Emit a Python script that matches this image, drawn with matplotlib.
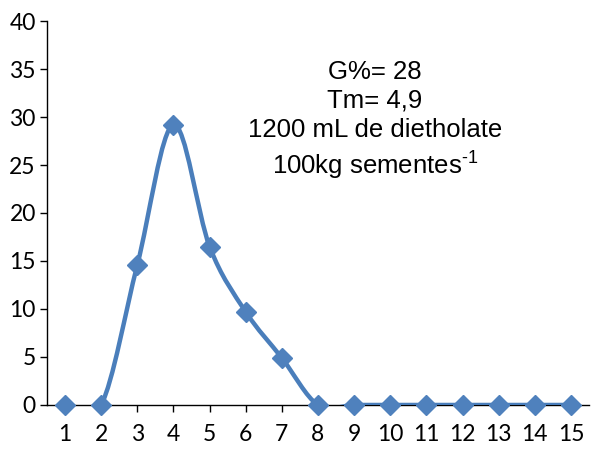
import numpy as np
import matplotlib
matplotlib.use('Agg')
import matplotlib.pyplot as plt
from matplotlib.path import Path
from matplotlib.patches import PathPatch

plt.rcParams['mathtext.fontset'] = 'custom'
plt.rcParams['mathtext.rm'] = 'Liberation Sans'

# Data
dias = [1, 2, 3, 4, 5, 6, 7, 8, 9, 10, 11, 12, 13, 14, 15]
germ = [0, 0, 14.6, 29.2, 16.5, 9.7, 4.9, 0, 0, 0, 0, 0, 0, 0, 0]
texto = 'G%= 28\nTm= 4,9\n1200 mL de dietholate\n100kg sementes$^{\\text{-1}}$'

line_color = '#4A7EBB'
marker_color = '#4F81BD'

fig = plt.figure(figsize=(6, 4.54), dpi=100)
ax = fig.add_axes([0.0783, 0.108, 0.9034, 0.8457])

# smoothed line (Excel-like bezier through the points)
x = np.array(dias, dtype=float)
y = np.array(germ, dtype=float)
n = len(x)
verts = [(x[0], y[0])]
codes = [Path.MOVETO]
for i in range(n - 1):
    p0 = i - 1 if i > 0 else i
    p3 = i + 2 if i + 2 < n else i + 1
    c1 = (x[i] + (x[i + 1] - x[p0]) / 6, y[i] + (y[i + 1] - y[p0]) / 6)
    c2 = (x[i + 1] - (x[p3] - x[i]) / 6, y[i + 1] - (y[p3] - y[i]) / 6)
    verts += [c1, c2, (x[i + 1], y[i + 1])]
    codes += [Path.CURVE4] * 3
patch = PathPatch(Path(verts, codes), facecolor='none', edgecolor=line_color,
                  lw=3.2, capstyle='round', joinstyle='round', zorder=3)
ax.add_patch(patch)

ax.plot(dias, germ, linestyle='none', marker='D', markersize=10.5,
        color=marker_color, clip_on=False, zorder=4)

ax.set_xlim(0.5, 15.5)
ax.set_ylim(0, 40)
ax.set_xticks(dias)
ax.set_yticks(range(0, 41, 5))

for s in ['top', 'right']:
    ax.spines[s].set_visible(False)
for s in ['left', 'bottom']:
    ax.spines[s].set_linewidth(1)
    ax.spines[s].set_color('black')

ax.tick_params(direction='out', length=5, width=1, labelsize=16.5)
ax.tick_params(axis='x', pad=9)
ax.tick_params(axis='y', pad=3)
for lab in ax.get_xticklabels() + ax.get_yticklabels():
    lab.set_fontfamily('Lato')

ax.text(0.605, 0.898, texto, transform=ax.transAxes, ha='center', va='top',
        fontsize=18.5, family='Liberation Sans', linespacing=1.25)

fig.savefig('out.png', dpi=100)
